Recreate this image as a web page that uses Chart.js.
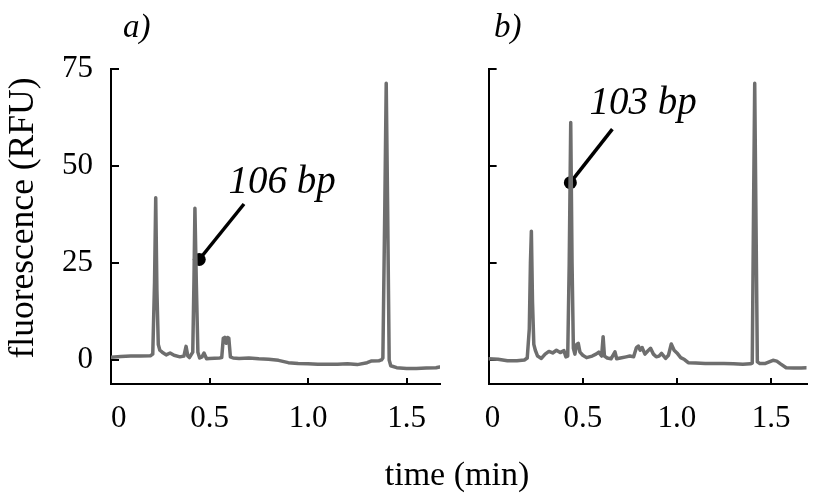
<!DOCTYPE html>
<html lang="en">
<head>
  <meta charset="UTF-8">
  <title>Electropherograms a) and b)</title>
  <script src="https://cdn.jsdelivr.net/npm/chart.js"></script>
  <style>
    body {
      margin: 0;
      background: #fff;
      font-family: "Liberation Serif", "Times New Roman", serif;
    }
    #wrap {
      position: relative;
      width: 813px;
      height: 495px;
      overflow: hidden;
    }
    canvas {
      position: absolute;
      top: 0;
    }
    #chartA { left: 0; }
    #chartB { left: 455px; }
    .txt {
      position: absolute;
      color: #000;
      white-space: nowrap;
      line-height: 1;
    }
    .panel {
      font-size: 33px;
      font-style: italic;
      top: 10px;
    }
    #xTitle {
      font-size: 34px;
      left: 257px;
      width: 400px;
      text-align: center;
      top: 457px;
    }
    #yTitle {
      font-size: 35.5px;
      width: 400px;
      height: 36px;
      left: -178.5px;
      top: 200px;
      text-align: center;
      transform: rotate(-90deg);
    }
  </style>
</head>
<body>
  <div id="wrap">
    <canvas id="chartA" width="455" height="495"></canvas>
    <canvas id="chartB" width="358" height="495"></canvas>
    <div class="txt panel" style="left:123px">a)</div>
    <div class="txt panel" style="left:494px">b)</div>
    <div class="txt" id="xTitle">time (min)</div>
    <div class="txt" id="yTitle">fluorescence (RFU)</div>
  </div>

  <script>
    // tick values shared by both panels
    const xTicks = [0, 0.5, 1.0, 1.5];
    const yTicks = [0, 25, 50, 75];

    // panel a) trace
    const timeA = [0, 0.05, 0.10, 0.15, 0.20, 0.212, 0.221, 0.227, 0.233, 0.240,
      0.248, 0.26, 0.28, 0.30, 0.32, 0.35, 0.37, 0.381, 0.39, 0.398,
      0.415, 0.421, 0.426, 0.433, 0.441, 0.45, 0.462, 0.472, 0.485, 0.50,
      0.55, 0.562, 0.570, 0.577, 0.585, 0.592, 0.598, 0.606, 0.62, 0.65,
      0.70, 0.75, 0.80, 0.85, 0.90, 0.95, 1.00, 1.05, 1.10, 1.15,
      1.20, 1.25, 1.30, 1.32, 1.36, 1.373, 1.380, 1.390, 1.397, 1.404,
      1.412, 1.42, 1.45, 1.50, 1.55, 1.60, 1.65, 1.668];
    const signalA = [0.7, 0.9, 1.0, 1.0, 1.1, 1.5, 20, 41.8, 18, 4,
      2.5, 2.0, 1.3, 1.8, 1.2, 0.8, 1.0, 3.5, 1.0, 0.6,
      2, 20, 39.1, 20, 2, 0.5, 0.8, 1.8, 0.3, 0.4,
      0.5, 0.6, 5.6, 5.8, 4.3, 5.8, 5.6, 0.8, 0.5, 0.4,
      0.5, 0.3, 0.2, -0.1, -0.7, -0.9, -1.0, -1.1, -1.1, -1.1,
      -1.0, -1.2, -0.7, -0.3, -0.2, 0, 0.5, 40, 71.3, 40,
      0, -1.5, -2.0, -2.2, -2.2, -2.1, -2.0, -1.8];

    // panel b) trace
    const timeB = [0, 0.05, 0.10, 0.15, 0.19, 0.205, 0.216, 0.222, 0.227, 0.233,
      0.240, 0.248, 0.26, 0.28, 0.30, 0.32, 0.34, 0.36, 0.38, 0.40,
      0.41, 0.420, 0.428, 0.436, 0.443, 0.450, 0.458, 0.468, 0.476, 0.485,
      0.50, 0.52, 0.55, 0.57, 0.585, 0.60, 0.608, 0.615, 0.63, 0.65,
      0.671, 0.68, 0.70, 0.73, 0.75, 0.77, 0.785, 0.795, 0.805, 0.815,
      0.83, 0.845, 0.86, 0.875, 0.89, 0.905, 0.918, 0.94, 0.955, 0.97,
      0.985, 1.00, 1.02, 1.04, 1.06, 1.10, 1.15, 1.20, 1.25, 1.30,
      1.35, 1.39, 1.400, 1.407, 1.413, 1.419, 1.427, 1.44, 1.47, 1.49,
      1.51, 1.53, 1.55, 1.58, 1.62, 1.66, 1.688];
    const signalB = [0.3, 0.2, -0.2, -0.2, 0.0, 0.5, 8, 25, 33.2, 15,
      4, 2.5, 1.0, 0.4, 1.5, 2.2, 1.8, 2.5, 1.9, 2.4,
      0.8, 1.0, 25, 61.2, 25, 3, 1.5, 4.0, 4.3, 2.0,
      1.2, 0.6, 1.0, 1.5, 2.0, 1.0, 6.0, 1.0, 0.5, 0.3,
      2.1, 0.3, 0.5, 0.8, 1.0, 0.8, 3.2, 3.6, 2.5, 3.2,
      1.5, 2.3, 3.0, 1.5, 0.8, 1.0, 1.7, 0.4, 1.2, 4.1,
      2.5, 1.8, 0.6, 0.1, -0.7, -0.8, -0.9, -0.9, -0.9, -1.0,
      -1.1, -1.0, -0.8, 40, 71.3, 40, -0.5, -0.9, -0.9, -0.5,
      -0.1, -0.3, -1.0, -2.0, -2.1, -2.1, -2.0];

    // pointer lines: dot on the peak -> end near the label
    const pointerA = [[0.448, 25.9], [0.675, 40.2]];
    const pointerB = [[0.434, 45.7], [0.657, 59.5]];
    const labelA = { text: '106 bp', x: 0.597, y: 43.0 };
    const labelB = { text: '103 bp', x: 0.536, y: 63.4 };

    const serif = '"Liberation Serif", "Times New Roman", serif';

    const annotationText = {
      id: 'annotationText',
      afterDatasetsDraw(chart, args, opts) {
        const { ctx, scales: { x, y } } = chart;
        ctx.save();
        ctx.font = 'italic 39px ' + serif;
        ctx.fillStyle = '#000';
        ctx.textBaseline = 'alphabetic';
        ctx.fillText(opts.text, x.getPixelForValue(opts.x), y.getPixelForValue(opts.y));
        ctx.restore();
      }
    };

    function makeChart(id, times, signal, pointer, label, cfg) {
      const trace = times.map((t, i) => ({ x: t, y: signal[i] }));
      const ptr = pointer.map(p => ({ x: p[0], y: p[1] }));
      return new Chart(document.getElementById(id), {
        type: 'line',
        data: {
          datasets: [
            {
              data: trace,
              borderColor: '#6e6e6e',
              borderWidth: 3.5,
              pointRadius: 0,
              tension: 0,
              borderJoinStyle: 'round',
              borderCapStyle: 'round'
            },
            {
              data: ptr,
              borderColor: '#000',
              backgroundColor: '#000',
              borderWidth: 3.5,
              pointRadius: [6.5, 0],
              pointBorderWidth: 0,
              tension: 0
            }
          ]
        },
        options: {
          responsive: false,
          animation: false,
          events: [],
          layout: { padding: { top: 69, right: cfg.padRight, left: 0, bottom: 0 } },
          plugins: {
            legend: { display: false },
            tooltip: { enabled: false },
            annotationText: label
          },
          scales: {
            x: {
              type: 'linear',
              min: 0,
              max: cfg.xMax,
              afterBuildTicks: s => { s.ticks = xTicks.map(v => ({ value: v })); },
              afterFit: s => { s.height = 111; },
              border: { display: true, color: '#000', width: 2 },
              grid: { drawOnChartArea: false, drawTicks: true, tickLength: -6, color: '#000', lineWidth: 2 },
              ticks: {
                padding: 22,
                color: '#000',
                font: { family: serif, size: 31 },
                maxRotation: 0,
                autoSkip: false,
                callback: v => (v === 0 ? cfg.zeroLabel : v.toFixed(1))
              }
            },
            y: {
              min: -6.2,
              max: 75,
              afterBuildTicks: s => { s.ticks = yTicks.map(v => ({ value: v })); },
              afterFit: s => { s.width = cfg.yWidth; },
              border: { display: true, color: '#000', width: 2 },
              grid: { drawOnChartArea: false, drawTicks: true, tickLength: -8, color: '#000', lineWidth: 2 },
              ticks: {
                display: cfg.yLabels,
                padding: 26,
                color: '#000',
                font: { family: serif, size: 31 }
              }
            }
          }
        },
        plugins: [annotationText]
      });
    }

    makeChart('chartA', timeA, signalA, pointerA, labelA,
      { xMax: 1.67, padRight: 15, yWidth: 111, yLabels: true, zeroLabel: '  0' });
    makeChart('chartB', timeB, signalB, pointerB, labelB,
      { xMax: 1.688, padRight: 3, yWidth: 23, yLabels: false, zeroLabel: ' 0' });
  </script>
</body>
</html>
